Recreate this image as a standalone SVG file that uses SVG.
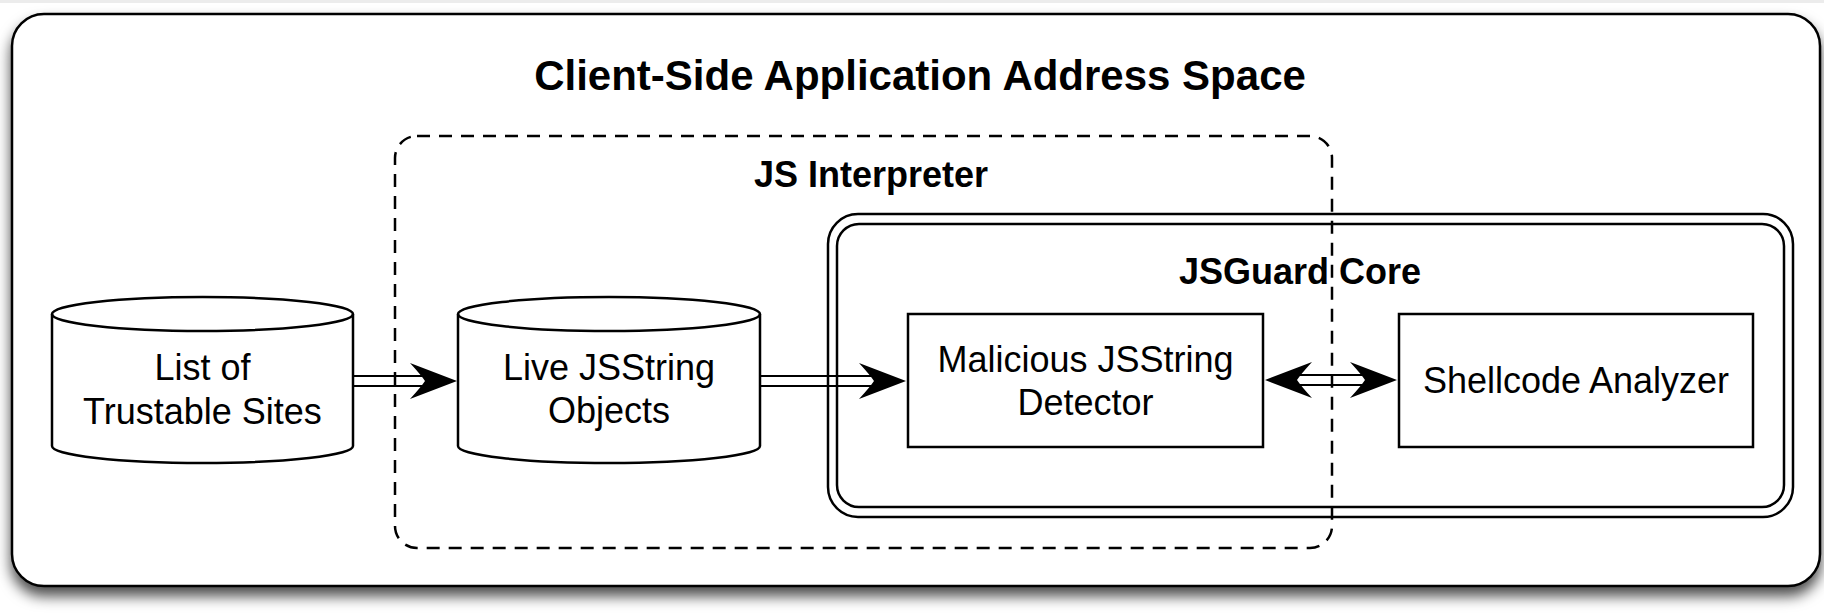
<svg xmlns="http://www.w3.org/2000/svg" width="1824" height="616" viewBox="0 0 1824 616">
  <style>
    .line { stroke: #000; stroke-width: 2.5; }
    .shape { fill: #fff; stroke: #000; stroke-width: 2.5; }
    .frame { fill: none; stroke: #000; stroke-width: 2.5; }
    .dash { fill: none; stroke: #000; stroke-width: 2.5; stroke-dasharray: 13 9; }
    .label { font-family: "Liberation Sans", Arial, Helvetica, sans-serif; font-size: 36px; fill: #000; text-anchor: middle; }
    .title { font-family: "Liberation Sans", Arial, Helvetica, sans-serif; font-weight: bold; fill: #000; text-anchor: middle; }
    .shaft { fill: none; stroke: #000; stroke-width: 2.2; }
    .head { fill: #000; stroke: none; }
  </style>
  <defs>
    <filter id="shadow" x="-5%" y="-10%" width="110%" height="125%">
      <feDropShadow dx="0" dy="9" stdDeviation="7" flood-color="#000" flood-opacity="0.7"/>
    </filter>
    <path id="arrowhead" class="head" d="M0,0 L-47,-18 Q-36,-6 -32,0 Q-36,6 -47,18 Z"/>
  </defs>

  <rect x="0" y="0" width="1824" height="616" fill="#fff"/>
  <rect x="0" y="0" width="1824" height="3" fill="#ececec"/>

  <g id="client-side-space">
    <rect x="12" y="14" width="1808" height="572" rx="32" ry="32" fill="#fff" stroke="#000" stroke-width="2.5" filter="url(#shadow)"/>
    <text class="title" x="920" y="90" font-size="42">Client-Side Application Address Space</text>
  </g>

  <g id="list-of-trustable-sites">
    <path class="shape" d="M52,314 A150.5,17 0 0 1 353,314 L353,446 A150.5,17 0 0 1 52,446 Z"/>
    <path class="frame" d="M52,314 A150.5,17 0 0 0 353,314"/>
    <text class="label" x="202.5" y="380">List of</text>
    <text class="label" x="202.5" y="424">Trustable Sites</text>
  </g>

  <g id="live-jsstring-objects">
    <path class="shape" d="M458,314 A151,17 0 0 1 760,314 L760,446 A151,17 0 0 1 458,446 Z"/>
    <path class="frame" d="M458,314 A151,17 0 0 0 760,314"/>
    <text class="label" x="609" y="380">Live JSString</text>
    <text class="label" x="609" y="423">Objects</text>
  </g>

  <g id="malicious-jsstring-detector">
    <rect class="shape" x="908" y="314" width="355" height="133"/>
    <text class="label" x="1085.5" y="372">Malicious JSString</text>
    <text class="label" x="1085.5" y="415">Detector</text>
  </g>

  <g id="shellcode-analyzer">
    <rect class="shape" x="1399" y="314" width="354" height="133"/>
    <text class="label" x="1576" y="393">Shellcode Analyzer</text>
  </g>

  <g id="jsguard-core">
    <rect class="frame" x="828" y="214" width="965" height="303" rx="30" ry="30"/>
    <rect class="frame" x="837" y="224" width="947" height="283" rx="22" ry="22"/>
    <text class="title" x="1300" y="284" font-size="36">JSGuard Core</text>
  </g>

  <g id="connectors">
    <g id="edge-sites-to-live">
      <path class="shaft" d="M353,376 L428,376 M353,386 L428,386"/>
      <use href="#arrowhead" transform="translate(457,381)"/>
    </g>
    <g id="edge-live-to-detector">
      <path class="shaft" d="M760,376 L877,376 M760,386 L877,386"/>
      <use href="#arrowhead" transform="translate(906,381)"/>
    </g>
    <g id="edge-detector-shellcode">
      <path class="shaft" d="M1294,375 L1368,375 M1294,385 L1368,385"/>
      <use href="#arrowhead" transform="translate(1265,380) rotate(180)"/>
      <use href="#arrowhead" transform="translate(1397,380)"/>
    </g>
  </g>

  <g id="js-interpreter">
    <rect class="dash" x="395" y="136" width="937" height="412" rx="22" ry="22"/>
    <text class="title" x="871" y="187" font-size="36">JS Interpreter</text>
  </g>
</svg>
